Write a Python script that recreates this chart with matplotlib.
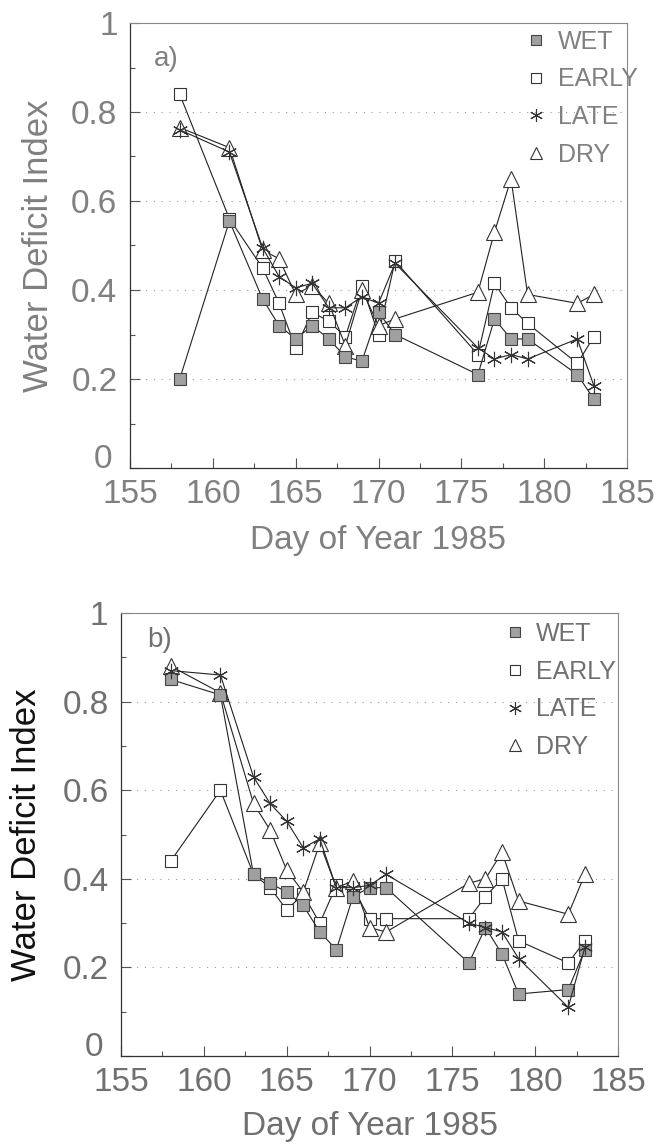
import numpy as np
import matplotlib
matplotlib.use('Agg')
import matplotlib.pyplot as plt
from matplotlib.ticker import MultipleLocator, FuncFormatter
import matplotlib.transforms as mtransforms

plt.rcParams['font.family'] = ['Liberation Sans', 'DejaVu Sans']

# datos
dias = [158, 161, 163, 164, 165, 166, 167, 168, 169, 170, 171, 176, 177, 178, 179, 182, 183]

# panel a)
wet_a = [0.20, 0.555, 0.38, 0.32, 0.29, 0.32, 0.29, 0.25, 0.24, 0.35, 0.30, 0.21, 0.335, 0.29, 0.29, 0.21, 0.155]
early_a = [0.84, 0.56, 0.45, 0.37, 0.27, 0.35, 0.33, 0.295, 0.41, 0.30, 0.465, 0.255, 0.415, 0.36, 0.325, 0.235, 0.295]
late_a = [0.76, 0.71, 0.495, 0.43, 0.405, 0.415, 0.36, 0.36, 0.385, 0.37, 0.46, 0.27, 0.245, 0.255, 0.245, 0.29, 0.185]
dry_a = [0.765, 0.72, 0.49, 0.47, 0.39, 0.41, 0.37, 0.275, 0.40, 0.32, 0.335, 0.395, 0.53, 0.65, 0.39, 0.37, 0.39]

# panel b)
wet_b = [0.85, 0.815, 0.41, 0.39, 0.37, 0.34, 0.28, 0.24, 0.36, 0.38, 0.38, 0.21, 0.29, 0.23, 0.14, 0.15, 0.24]
early_b = [0.44, 0.60, 0.41, 0.38, 0.33, 0.365, 0.30, 0.385, 0.38, 0.31, 0.31, 0.31, 0.36, 0.40, 0.26, 0.21, 0.26]
late_b = [0.87, 0.86, 0.63, 0.57, 0.53, 0.47, 0.49, 0.38, 0.38, 0.385, 0.41, 0.30, 0.29, 0.28, 0.22, 0.11, 0.245]
dry_b = [0.88, 0.82, 0.57, 0.51, 0.42, 0.37, 0.48, 0.38, 0.395, 0.29, 0.28, 0.39, 0.40, 0.46, 0.35, 0.32, 0.41]

nombres = ['WET', 'EARLY', 'LATE', 'DRY']
asterisco = (6, 2, 0)


def fmt_y(v, pos):
    # el "0" se pone aparte, apoyado sobre el eje
    if abs(v) < 1e-9:
        return ''
    if abs(v - 1) < 1e-9:
        return '1'
    return f'{v:.1f}'


def dibujar(ax, wet, early, late, dry, letra, txt_color, ylab_color, leg_xy, letra_xy):
    ax.plot(dias, wet, color='#222222', lw=0.8, marker='s', ms=8.5,
            mfc='#a0a0a0', mec='#444444', mew=0.8, label=nombres[0], zorder=3)
    ax.plot(dias, early, color='#222222', lw=0.8, marker='s', ms=8.5,
            mfc='white', mec='#333333', mew=0.8, label=nombres[1], zorder=2)
    ax.plot(dias, late, color='#222222', lw=0.8, marker=asterisco, ms=11,
            mec='#333333', mew=0.8, label=nombres[2], zorder=4)
    ax.plot(dias, dry, color='#222222', lw=0.8, marker='^', ms=11,
            mfc='white', mec='#333333', mew=0.8, label=nombres[3], zorder=2)

    ax.set_xlim(155, 185)
    ax.set_ylim(0, 1)
    ax.xaxis.set_major_locator(MultipleLocator(5))
    ax.xaxis.set_minor_locator(MultipleLocator(2.5))
    ax.yaxis.set_major_locator(MultipleLocator(0.2))
    ax.yaxis.set_minor_locator(MultipleLocator(0.1))
    ax.yaxis.set_major_formatter(FuncFormatter(fmt_y))

    ax.tick_params(which='both', direction='in', top=False, right=False,
                   color='#555555', width=0.8, labelsize=24, labelcolor=txt_color)
    ax.tick_params(which='major', length=7)
    ax.tick_params(which='minor', length=3.5)
    ax.tick_params(axis='x', pad=8)
    ax.tick_params(axis='y', pad=9)

    # "0" del eje y
    trans = mtransforms.blended_transform_factory(ax.transAxes, ax.transData)
    trans = trans + mtransforms.ScaledTranslation(-13 / 72, 0, ax.figure.dpi_scale_trans)
    ax.text(0, 0, '0', transform=trans, fontsize=24, color=txt_color,
            ha='right', va='baseline')

    for y in [0.2, 0.4, 0.6, 0.8]:
        ax.axhline(y, color='#999999', lw=0.8, ls=(0, (1, 6)), zorder=0)

    for lado in ['left', 'bottom']:
        ax.spines[lado].set_color('#333333')
        ax.spines[lado].set_linewidth(0.9)
    for lado in ['top', 'right']:
        ax.spines[lado].set_color('#888888')
        ax.spines[lado].set_linewidth(0.8)

    ax.set_xlabel('Day of Year 1985', fontsize=24, color=txt_color, va='center')
    ax.set_ylabel('Water Deficit Index', fontsize=25, color=ylab_color, va='center')
    ax.xaxis.set_label_coords(0.5, -0.163)

    ax.text(letra_xy[0], letra_xy[1], letra, transform=ax.transAxes,
            fontsize=20, color=txt_color, va='center', ha='left')

    leg = ax.legend(loc='upper left', bbox_to_anchor=leg_xy, frameon=False,
                    fontsize=18, handlelength=0.7, handletextpad=0.5,
                    labelspacing=0.55, borderpad=0, borderaxespad=0,
                    markerscale=0.85)
    for t in leg.get_texts():
        t.set_color(txt_color)
    for h in leg.legend_handles:
        h.set_linestyle('none')


fig = plt.figure(figsize=(6.64, 11.46), dpi=100)

ax1 = fig.add_axes([130 / 664, 1 - 468 / 1146, 497 / 664, 445 / 1146])
dibujar(ax1, wet_a, early_a, late_a, dry_a, 'a)', '#808080', '#808080',
        (0.80, 0.985), (0.048, 0.92))
ax1.yaxis.set_label_coords(-0.185, 0.5)

ax2 = fig.add_axes([121 / 664, 1 - 1056 / 1146, 497 / 664, 443 / 1146])
dibujar(ax2, wet_b, early_b, late_b, dry_b, 'b)', '#707070', '#111111',
        (0.775, 0.98), (0.052, 0.94))
ax2.yaxis.set_label_coords(-0.191, 0.5)
ax2.xaxis.set_label_coords(0.5, -0.16)

fig.savefig('out.png', dpi=100)
